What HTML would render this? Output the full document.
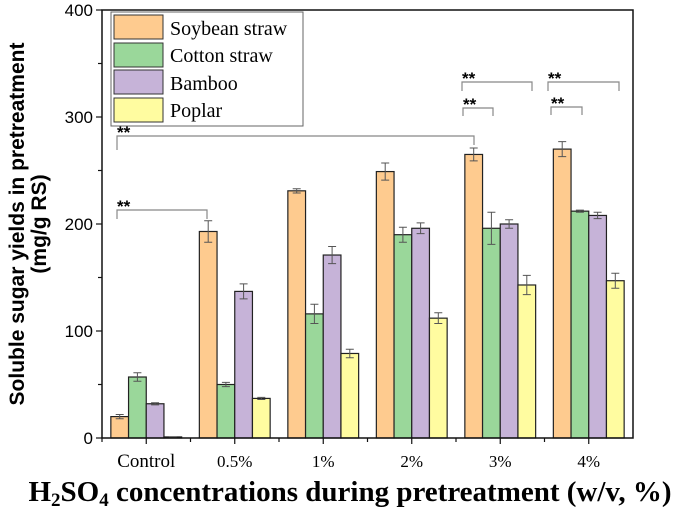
<!DOCTYPE html>
<html><head><meta charset="utf-8"><style>
body{margin:0;background:#fff;}
</style></head><body>
<svg id="c" width="685" height="510" xmlns="http://www.w3.org/2000/svg"></svg>
<script>
const categories=["Control","0.5%","1%","2%","3%","4%"];
const seriesNames=["Soybean straw","Cotton straw","Bamboo","Poplar"];
const soybean=[20,193,231,249,265,270];
const cotton=[57,50,116,190,196,212];
const bamboo=[32,137,171,196,200,208];
const poplar=[1,37,79,112,143,147];
const soybeanErr=[2,10,2,8,6,7];
const cottonErr=[4,2,9,7,15,1];
const bambooErr=[1,7,8,5,4,3];
const poplarErr=[0,1,4,5,9,7];
const yTicks=[0,100,200,300,400];
const colors=["#fecb8f","#9ad79a","#c6b3d8","#fffca0"];
const NS="http://www.w3.org/2000/svg";
const svg=document.getElementById('c');
const L=102,R=633,T=10,B=438;
const gw=(R-L)/categories.length, bw=17.7;
function y(v){return B-(v/400)*(B-T);}
function xc(i){return L+gw*(i+0.5);}
function mk(tag,at,parent){const e=document.createElementNS(NS,tag);for(const k in at)e.setAttribute(k,at[k]);(parent||svg).appendChild(e);return e;}
const vals=[soybean,cotton,bamboo,poplar], errs=[soybeanErr,cottonErr,bambooErr,poplarErr];
for(let s=0;s<4;s++){for(let i=0;i<categories.length;i++){
 const x=xc(i)+(s-2)*bw, v=vals[s][i], e=errs[s][i];
 const r=mk('rect',{x:x,y:y(v),width:bw,height:B-y(v),fill:colors[s],stroke:'#222','stroke-width':1.2});
 
 
 const cx=x+bw/2;
 const g=mk('path',{d:`M${cx} ${y(v+e)}V${y(v-e)}M${cx-4} ${y(v+e)}H${cx+4}M${cx-4} ${y(v-e)}H${cx+4}`,stroke:'#555','stroke-width':1,fill:'none'});
 
 
}}
const fr=mk('path',{d:`M${L} ${T}V${B}H${R}V${T}Z`,fill:'none',stroke:'#111','stroke-width':1.5});


yTicks.forEach(t=>{
 mk('line',{x1:L-6,x2:L,y1:y(t),y2:y(t),stroke:'#111','stroke-width':1.2});
 if(t<400) mk('line',{x1:L-4,x2:L,y1:y(t+50),y2:y(t+50),stroke:'#111','stroke-width':1.2});
 const tx=mk('text',{x:L-9,y:y(t)+6,'text-anchor':'end','font-size':17,style:'font-family:"Liberation Sans",sans-serif'});
 tx.textContent=t;
 
 
});
categories.forEach((c,i)=>{
 mk('line',{x1:xc(i),x2:xc(i),y1:B,y2:B+6,stroke:'#111','stroke-width':1.2});
 mk('line',{x1:L+gw*i,x2:L+gw*i,y1:B,y2:B+4,stroke:'#111','stroke-width':1.2});
 const tx=mk('text',{x:xc(i),y:467,'text-anchor':'middle','font-size':i==0?19:17,style:'font-family:"Liberation Serif",serif'});
 tx.textContent=c;
 
 
});
const br=[[117,207,210,219,219],[117,474,136,150,145],[462,532,82,91,91],[463,493,108,116,116],[548,619,82,91,91],[551,582,107,115,115]];
br.forEach(b=>{
 const p=mk('path',{d:`M${b[0]} ${b[3]}V${b[2]}H${b[1]}V${b[4]}`,fill:'none',stroke:'#888','stroke-width':1.2});
 
 
 const t=mk('text',{x:b[0],y:b[2]+2,'font-size':17,'font-weight':'bold',style:'font-family:"Liberation Sans",sans-serif'});
 t.textContent='**';
 
 
});
</script>
<svg width="685" height="510" style="position:absolute;left:0;top:0" xmlns="http://www.w3.org/2000/svg">
<g>
<rect x="111" y="12" width="192" height="114" fill="#fff" stroke="#666" stroke-width="1"/>
<rect x="114" y="15" width="49" height="24" fill="#fecb8f" stroke="#333"/>
<rect x="114" y="43" width="49" height="24" fill="#9ad79a" stroke="#333"/>
<rect x="114" y="70" width="49" height="24" fill="#c6b3d8" stroke="#333"/>
<rect x="114" y="98" width="49" height="24" fill="#fffca0" stroke="#333"/>
<g style="font-family:'Liberation Serif',serif" font-size="20">
<text x="170" y="35">Soybean straw</text>
<text x="170" y="62">Cotton straw</text>
<text x="170" y="90">Bamboo</text>
<text x="170" y="117">Poplar</text>
</g>
</g>
<g transform="rotate(-90)" style="font-family:'Liberation Sans',sans-serif;font-weight:bold" font-size="21" text-anchor="middle">
<text x="-224" y="24">Soluble sugar yields in pretreatment</text>
<text x="-224" y="46">(mg/g RS)</text>
</g>
<text x="350" y="501" text-anchor="middle" style="font-family:'Liberation Serif',serif;font-weight:bold" font-size="29">H<tspan font-size="19" dy="5">2</tspan><tspan dy="-5">SO</tspan><tspan font-size="19" dy="5">4</tspan><tspan dy="-5"> concentrations during pretreatment (w/v, %)</tspan></text>
</svg>
</body></html>
